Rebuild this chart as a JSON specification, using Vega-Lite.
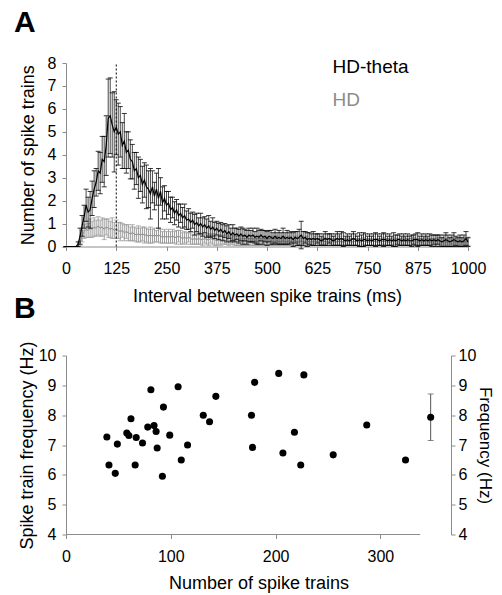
{
"$schema": "https://vega.github.io/schema/vega-lite/v6.json",
"padding": {"left": 14, "top": 8, "right": 0, "bottom": 0},
"background": "#ffffff",
"config": {
  "font": "Liberation Sans",
  "view": {"stroke": null},
  "axis": {"grid": false, "domainColor": "#8c8c8c", "tickColor": "#8c8c8c", "labelColor": "#000000", "titleColor": "#000000", "labelFontSize": 16, "titleFontSize": 18, "titleFontWeight": "normal", "tickSize": 4, "labelFont": "Liberation Sans", "titleFont": "Liberation Sans", "labelOverlap": false, "labelFlush": false, "format": "d"},
  "title": {"fontSize": 30, "fontWeight": "bold", "anchor": "start", "font": "Liberation Sans", "color": "#000000"}
},
"datasets": {
  "hist": [
{"t":0,"a":0,"ae":0,"b":0,"be":0},{"t":5,"a":0,"ae":0,"b":0,"be":0},{"t":10,"a":0,"ae":0,"b":0,"be":0},{"t":15,"a":0,"ae":0,"b":0,"be":0},{"t":20,"a":0,"ae":0,"b":0,"be":0},{"t":25,"a":0,"ae":0,"b":0,"be":0},
{"t":30,"a":0.1,"ae":0.1,"b":0,"be":0},{"t":35,"a":0.45,"ae":0.35,"b":0.15,"be":0.1},{"t":40,"a":0.9,"ae":0.45,"b":0.45,"be":0.25},{"t":45,"a":1.3,"ae":0.5,"b":0.65,"be":0.3},
{"t":50,"a":1.8,"ae":0.7,"b":0.75,"be":0.35},{"t":55,"a":1.5,"ae":0.65,"b":0.7,"be":0.3},{"t":60,"a":1.6,"ae":0.8,"b":0.8,"be":0.4},{"t":65,"a":2.1,"ae":0.75,"b":0.75,"be":0.35},
{"t":70,"a":2.5,"ae":0.8,"b":0.85,"be":0.4},{"t":75,"a":2.8,"ae":0.6,"b":0.8,"be":0.35},{"t":80,"a":3.3,"ae":0.85,"b":0.9,"be":0.4},{"t":85,"a":3.2,"ae":0.9,"b":0.8,"be":0.35},
{"t":90,"a":3.8,"ae":1.0,"b":0.85,"be":0.4},{"t":95,"a":3.7,"ae":1.1,"b":0.75,"be":0.45},{"t":100,"a":4.4,"ae":1.3,"b":0.85,"be":0.35},{"t":105,"a":5.6,"ae":1.7,"b":0.8,"be":0.4},
{"t":110,"a":5.7,"ae":1.65,"b":0.75,"be":0.35},{"t":115,"a":5.3,"ae":1.4,"b":0.8,"be":0.45},{"t":120,"a":5.0,"ae":1.75,"b":0.7,"be":0.35},{"t":125,"a":5.2,"ae":1.2,"b":0.75,"be":0.4},
{"t":130,"a":4.9,"ae":1.35,"b":0.7,"be":0.35},{"t":135,"a":5.0,"ae":1.1,"b":0.65,"be":0.4},{"t":140,"a":4.4,"ae":1.0,"b":0.7,"be":0.3},{"t":145,"a":4.6,"ae":1.2,"b":0.6,"be":0.35},
{"t":150,"a":4.1,"ae":0.9,"b":0.65,"be":0.3},{"t":155,"a":4.2,"ae":0.8,"b":0.6,"be":0.35},{"t":160,"a":3.8,"ae":0.85,"b":0.55,"be":0.3},{"t":165,"a":3.7,"ae":0.75,"b":0.6,"be":0.35},
{"t":170,"a":3.3,"ae":0.8,"b":0.55,"be":0.3},{"t":175,"a":3.4,"ae":0.7,"b":0.5,"be":0.3},{"t":180,"a":3.0,"ae":0.9,"b":0.55,"be":0.35},{"t":185,"a":3.1,"ae":0.7,"b":0.5,"be":0.3},
{"t":190,"a":2.7,"ae":0.8,"b":0.55,"be":0.3},{"t":195,"a":2.9,"ae":0.75,"b":0.5,"be":0.35},{"t":200,"a":2.6,"ae":0.95,"b":0.5,"be":0.3},{"t":205,"a":2.5,"ae":0.8,"b":0.45,"be":0.3},
{"t":210,"a":2.3,"ae":1.1,"b":0.5,"be":0.35},{"t":215,"a":2.6,"ae":0.7,"b":0.45,"be":0.3},{"t":220,"a":2.2,"ae":0.6,"b":0.5,"be":0.3},{"t":225,"a":2.5,"ae":0.7,"b":0.45,"be":0.25},
{"t":230,"a":2.1,"ae":1.3,"b":0.5,"be":0.3},{"t":235,"a":2.4,"ae":0.6,"b":0.45,"be":0.3},{"t":240,"a":1.9,"ae":0.7,"b":0.4,"be":0.25},{"t":245,"a":2.1,"ae":0.55,"b":0.45,"be":0.3},
{"t":250,"a":1.8,"ae":0.6,"b":0.4,"be":0.25},{"t":255,"a":1.9,"ae":0.5,"b":0.45,"be":0.3},{"t":260,"a":1.6,"ae":0.55,"b":0.4,"be":0.25},{"t":265,"a":1.7,"ae":0.45,"b":0.45,"be":0.3},
{"t":270,"a":1.45,"ae":0.5,"b":0.4,"be":0.25},{"t":275,"a":1.6,"ae":0.45,"b":0.4,"be":0.3},{"t":280,"a":1.35,"ae":0.5,"b":0.45,"be":0.25},{"t":285,"a":1.45,"ae":0.4,"b":0.4,"be":0.3},
{"t":290,"a":1.25,"ae":0.45,"b":0.35,"be":0.25},{"t":295,"a":1.35,"ae":0.5,"b":0.4,"be":0.25},{"t":300,"a":1.15,"ae":0.4,"b":0.35,"be":0.25},{"t":305,"a":1.2,"ae":0.45,"b":0.4,"be":0.2},
{"t":310,"a":1.05,"ae":0.4,"b":0.35,"be":0.25},{"t":315,"a":1.15,"ae":0.35,"b":0.3,"be":0.2},{"t":320,"a":0.95,"ae":0.45,"b":0.35,"be":0.25},{"t":325,"a":1.05,"ae":0.4,"b":0.3,"be":0.2},
{"t":330,"a":0.9,"ae":0.35,"b":0.35,"be":0.25},{"t":335,"a":1.0,"ae":0.45,"b":0.3,"be":0.2},{"t":340,"a":0.85,"ae":0.4,"b":0.3,"be":0.25},{"t":345,"a":0.95,"ae":0.35,"b":0.35,"be":0.2},
{"t":350,"a":0.8,"ae":0.4,"b":0.3,"be":0.2},{"t":355,"a":0.9,"ae":0.45,"b":0.3,"be":0.25},{"t":360,"a":0.75,"ae":0.35,"b":0.35,"be":0.2},{"t":365,"a":0.85,"ae":0.4,"b":0.3,"be":0.2},
{"t":370,"a":0.7,"ae":0.35,"b":0.3,"be":0.25},{"t":375,"a":0.8,"ae":0.3,"b":0.25,"be":0.2},{"t":380,"a":0.65,"ae":0.35,"b":0.3,"be":0.2},{"t":385,"a":0.75,"ae":0.3,"b":0.25,"be":0.2},
{"t":390,"a":0.6,"ae":0.35,"b":0.3,"be":0.2},{"t":395,"a":0.7,"ae":0.3,"b":0.25,"be":0.15},{"t":400,"a":0.55,"ae":0.35,"b":0.3,"be":0.2},{"t":405,"a":0.65,"ae":0.3,"b":0.25,"be":0.2},
{"t":410,"a":0.5,"ae":0.3,"b":0.25,"be":0.15},{"t":415,"a":0.6,"ae":0.35,"b":0.3,"be":0.2},{"t":420,"a":0.5,"ae":0.3,"b":0.25,"be":0.2},{"t":425,"a":0.55,"ae":0.25,"b":0.2,"be":0.15},
{"t":430,"a":0.45,"ae":0.3,"b":0.25,"be":0.2},{"t":435,"a":0.55,"ae":0.3,"b":0.2,"be":0.15},{"t":440,"a":0.45,"ae":0.35,"b":0.25,"be":0.2},{"t":445,"a":0.5,"ae":0.25,"b":0.2,"be":0.15},
{"t":450,"a":0.4,"ae":0.3,"b":0.25,"be":0.2},{"t":455,"a":0.5,"ae":0.3,"b":0.2,"be":0.15},{"t":460,"a":0.45,"ae":0.25,"b":0.25,"be":0.2},{"t":465,"a":0.5,"ae":0.3,"b":0.2,"be":0.15},
{"t":470,"a":0.4,"ae":0.25,"b":0.25,"be":0.2},{"t":475,"a":0.45,"ae":0.35,"b":0.2,"be":0.15},{"t":480,"a":0.4,"ae":0.3,"b":0.25,"be":0.2},{"t":485,"a":0.5,"ae":0.25,"b":0.2,"be":0.15},
{"t":490,"a":0.4,"ae":0.3,"b":0.2,"be":0.15},{"t":495,"a":0.45,"ae":0.25,"b":0.25,"be":0.2},{"t":500,"a":0.35,"ae":0.3,"b":0.2,"be":0.15},{"t":505,"a":0.45,"ae":0.25,"b":0.2,"be":0.15},
{"t":510,"a":0.4,"ae":0.3,"b":0.25,"be":0.2},{"t":515,"a":0.35,"ae":0.25,"b":0.2,"be":0.15},{"t":520,"a":0.45,"ae":0.3,"b":0.2,"be":0.15},{"t":525,"a":0.35,"ae":0.25,"b":0.25,"be":0.2},
{"t":530,"a":0.4,"ae":0.3,"b":0.2,"be":0.15},{"t":535,"a":0.35,"ae":0.25,"b":0.2,"be":0.15},{"t":540,"a":0.45,"ae":0.35,"b":0.25,"be":0.2},{"t":545,"a":0.35,"ae":0.25,"b":0.2,"be":0.15},
{"t":550,"a":0.4,"ae":0.3,"b":0.2,"be":0.15},{"t":555,"a":0.35,"ae":0.25,"b":0.25,"be":0.2},{"t":560,"a":0.4,"ae":0.25,"b":0.2,"be":0.15},{"t":565,"a":0.3,"ae":0.3,"b":0.2,"be":0.15},
{"t":570,"a":0.4,"ae":0.25,"b":0.25,"be":0.2},{"t":575,"a":0.35,"ae":0.3,"b":0.2,"be":0.15},{"t":580,"a":0.4,"ae":0.35,"b":0.2,"be":0.15},{"t":585,"a":0.5,"ae":0.6,"b":0.25,"be":0.2},
{"t":590,"a":0.35,"ae":0.3,"b":0.2,"be":0.15},{"t":595,"a":0.4,"ae":0.25,"b":0.2,"be":0.15},{"t":600,"a":0.3,"ae":0.3,"b":0.25,"be":0.2},{"t":605,"a":0.35,"ae":0.25,"b":0.2,"be":0.15},
{"t":610,"a":0.3,"ae":0.25,"b":0.2,"be":0.15},{"t":615,"a":0.35,"ae":0.3,"b":0.2,"be":0.15},{"t":620,"a":0.3,"ae":0.25,"b":0.25,"be":0.2},{"t":625,"a":0.35,"ae":0.2,"b":0.2,"be":0.15},
{"t":630,"a":0.3,"ae":0.25,"b":0.2,"be":0.15},{"t":635,"a":0.25,"ae":0.2,"b":0.2,"be":0.15},{"t":640,"a":0.3,"ae":0.25,"b":0.25,"be":0.15},{"t":645,"a":0.35,"ae":0.3,"b":0.2,"be":0.15},
{"t":650,"a":0.3,"ae":0.25,"b":0.2,"be":0.15},{"t":655,"a":0.35,"ae":0.2,"b":0.2,"be":0.15},{"t":660,"a":0.3,"ae":0.25,"b":0.25,"be":0.2},{"t":665,"a":0.25,"ae":0.2,"b":0.2,"be":0.15},
{"t":670,"a":0.3,"ae":0.25,"b":0.2,"be":0.15},{"t":675,"a":0.35,"ae":0.3,"b":0.2,"be":0.15},{"t":680,"a":0.3,"ae":0.25,"b":0.25,"be":0.2},{"t":685,"a":0.35,"ae":0.3,"b":0.2,"be":0.15},
{"t":690,"a":0.3,"ae":0.3,"b":0.2,"be":0.15},{"t":695,"a":0.25,"ae":0.2,"b":0.2,"be":0.15},{"t":700,"a":0.3,"ae":0.25,"b":0.25,"be":0.15},{"t":705,"a":0.25,"ae":0.2,"b":0.2,"be":0.15},
{"t":710,"a":0.3,"ae":0.25,"b":0.2,"be":0.15},{"t":715,"a":0.35,"ae":0.3,"b":0.2,"be":0.15},{"t":720,"a":0.3,"ae":0.25,"b":0.25,"be":0.2},{"t":725,"a":0.25,"ae":0.2,"b":0.2,"be":0.15},
{"t":730,"a":0.3,"ae":0.3,"b":0.2,"be":0.15},{"t":735,"a":0.25,"ae":0.25,"b":0.2,"be":0.15},{"t":740,"a":0.3,"ae":0.3,"b":0.25,"be":0.15},{"t":745,"a":0.3,"ae":0.25,"b":0.2,"be":0.15},
{"t":750,"a":0.25,"ae":0.2,"b":0.2,"be":0.15},{"t":755,"a":0.3,"ae":0.25,"b":0.2,"be":0.15},{"t":760,"a":0.25,"ae":0.2,"b":0.2,"be":0.15},{"t":765,"a":0.3,"ae":0.25,"b":0.25,"be":0.2},
{"t":770,"a":0.3,"ae":0.3,"b":0.2,"be":0.15},{"t":775,"a":0.3,"ae":0.25,"b":0.2,"be":0.15},{"t":780,"a":0.25,"ae":0.2,"b":0.2,"be":0.15},{"t":785,"a":0.3,"ae":0.25,"b":0.2,"be":0.15},
{"t":790,"a":0.3,"ae":0.3,"b":0.25,"be":0.15},{"t":795,"a":0.3,"ae":0.25,"b":0.2,"be":0.15},{"t":800,"a":0.25,"ae":0.2,"b":0.2,"be":0.15},{"t":805,"a":0.3,"ae":0.25,"b":0.2,"be":0.15},
{"t":810,"a":0.25,"ae":0.2,"b":0.2,"be":0.15},{"t":815,"a":0.3,"ae":0.3,"b":0.25,"be":0.15},{"t":820,"a":0.25,"ae":0.25,"b":0.2,"be":0.15},{"t":825,"a":0.3,"ae":0.2,"b":0.2,"be":0.15},
{"t":830,"a":0.3,"ae":0.25,"b":0.2,"be":0.15},{"t":835,"a":0.25,"ae":0.2,"b":0.2,"be":0.15},{"t":840,"a":0.3,"ae":0.25,"b":0.25,"be":0.15},{"t":845,"a":0.25,"ae":0.2,"b":0.2,"be":0.15},
{"t":850,"a":0.3,"ae":0.25,"b":0.2,"be":0.15},{"t":855,"a":0.25,"ae":0.2,"b":0.2,"be":0.15},{"t":860,"a":0.25,"ae":0.25,"b":0.2,"be":0.15},{"t":865,"a":0.3,"ae":0.2,"b":0.25,"be":0.15},
{"t":870,"a":0.3,"ae":0.25,"b":0.2,"be":0.15},{"t":875,"a":0.3,"ae":0.3,"b":0.2,"be":0.15},{"t":880,"a":0.25,"ae":0.2,"b":0.2,"be":0.15},{"t":885,"a":0.3,"ae":0.25,"b":0.2,"be":0.15},
{"t":890,"a":0.25,"ae":0.2,"b":0.2,"be":0.15},{"t":895,"a":0.3,"ae":0.25,"b":0.25,"be":0.15},{"t":900,"a":0.25,"ae":0.2,"b":0.2,"be":0.15},{"t":905,"a":0.3,"ae":0.25,"b":0.2,"be":0.15},
{"t":910,"a":0.25,"ae":0.25,"b":0.2,"be":0.15},{"t":915,"a":0.3,"ae":0.2,"b":0.2,"be":0.15},{"t":920,"a":0.25,"ae":0.25,"b":0.2,"be":0.15},{"t":925,"a":0.3,"ae":0.2,"b":0.25,"be":0.15},
{"t":930,"a":0.25,"ae":0.25,"b":0.2,"be":0.15},{"t":935,"a":0.2,"ae":0.2,"b":0.2,"be":0.15},{"t":940,"a":0.25,"ae":0.25,"b":0.2,"be":0.15},{"t":945,"a":0.3,"ae":0.3,"b":0.2,"be":0.15},
{"t":950,"a":0.25,"ae":0.25,"b":0.2,"be":0.15},{"t":955,"a":0.2,"ae":0.2,"b":0.2,"be":0.15},{"t":960,"a":0.25,"ae":0.25,"b":0.25,"be":0.15},{"t":965,"a":0.3,"ae":0.3,"b":0.2,"be":0.15},
{"t":970,"a":0.25,"ae":0.2,"b":0.2,"be":0.15},{"t":975,"a":0.2,"ae":0.2,"b":0.2,"be":0.15},{"t":980,"a":0.25,"ae":0.25,"b":0.2,"be":0.15},{"t":985,"a":0.2,"ae":0.2,"b":0.2,"be":0.15},
{"t":990,"a":0.25,"ae":0.25,"b":0.2,"be":0.15},{"t":995,"a":0.35,"ae":0.3,"b":0.2,"be":0.15},{"t":1000,"a":0.2,"ae":0.2,"b":0.2,"be":0.15}
  ],
  "pts": [
{"n":39,"f":7.27},{"n":41,"f":6.33},{"n":47,"f":6.05},{"n":49,"f":7.03},{"n":58,"f":7.4},{"n":60,"f":7.32},{"n":62,"f":7.88},{"n":67,"f":7.25},{"n":66,"f":6.33},{"n":73,"f":7.07},{"n":78,"f":7.6},{"n":81,"f":8.85},{"n":84,"f":7.65},{"n":86,"f":7.45},{"n":87,"f":6.9},{"n":93,"f":8.27},{"n":92,"f":5.95},{"n":99,"f":7.33},{"n":107,"f":8.95},{"n":110,"f":6.5},{"n":116,"f":7.0},{"n":131,"f":8.0},{"n":137,"f":7.78},{"n":143,"f":8.63},{"n":180,"f":9.1},{"n":177,"f":8.0},{"n":178,"f":6.92},{"n":203,"f":9.4},{"n":227,"f":9.35},{"n":218,"f":7.43},{"n":207,"f":6.73},{"n":224,"f":6.33},{"n":255,"f":6.67},{"n":287,"f":7.67},{"n":324,"f":6.5}
  ]
},
"bounds": "flush",
"spacing": 108.5,
"vconcat": [
  {
    "width": 402,
    "height": 183.5,
    "title": {"text": "A", "dx": -52, "anchor": "start", "frame": "group", "offset": 17},
    "data": {"name": "hist"},
    "encoding": {
      "x": {"field": "t", "type": "quantitative", "scale": {"domain": [0, 1000], "nice": false}, "title": "Interval between spike trains (ms)",
            "axis": {"values": [0,125,250,375,500,625,750,875,1000], "labelPadding": 10, "titlePadding": 11}}
    },
    "layer": [
      {"mark": {"type": "errorbar", "color": "#9a9a9a", "thickness": 1, "ticks": {"size": 5, "color": "#9a9a9a"}},
       "encoding": {"y": {"field": "b", "type": "quantitative", "scale": {"domain": [0, 8], "nice": false}, "title": "Number of spike trains", "axis": {"values": [0,1,2,3,4,5,6,7,8], "labelPadding": 6, "titlePadding": 10}}, "yError": {"field": "be"}}},
      {"mark": {"type": "line", "color": "#8a8a8a", "strokeWidth": 1},
       "encoding": {"y": {"field": "b", "type": "quantitative", "scale": {"domain": [0, 8], "nice": false}, "title": "Number of spike trains", "axis": {"values": [0,1,2,3,4,5,6,7,8], "labelPadding": 6, "titlePadding": 10}}}},
      {"mark": {"type": "errorbar", "color": "#1a1a1a", "thickness": 1, "opacity": 0.8, "ticks": {"size": 5, "color": "#000000"}},
       "encoding": {"y": {"field": "a", "type": "quantitative", "scale": {"domain": [0, 8], "nice": false}, "title": "Number of spike trains", "axis": {"values": [0,1,2,3,4,5,6,7,8], "labelPadding": 6, "titlePadding": 10}}, "yError": {"field": "ae"}}},
      {"mark": {"type": "line", "color": "#000000", "strokeWidth": 1.2},
       "encoding": {"y": {"field": "a", "type": "quantitative", "scale": {"domain": [0, 8], "nice": false}, "title": "Number of spike trains", "axis": {"values": [0,1,2,3,4,5,6,7,8], "labelPadding": 6, "titlePadding": 10}}}},
      {"data": {"values": [{"t": 125, "lo": 0, "hi": 8}]},
       "mark": {"type": "rule", "color": "#000000", "strokeWidth": 1, "strokeDash": [2, 2]},
       "encoding": {"y": {"field": "lo", "type": "quantitative", "title": "Number of spike trains", "axis": {"values": [0,1,2,3,4,5,6,7,8], "labelPadding": 6, "titlePadding": 10}}, "y2": {"field": "hi"}}},
      {"data": {"values": [{"t": 663, "v": 7.84, "s": "HD-theta"}, {"t": 663, "v": 6.4, "s": "HD"}]},
       "mark": {"type": "text", "align": "left", "baseline": "middle", "fontSize": 19},
       "encoding": {"y": {"field": "v", "type": "quantitative", "title": "Number of spike trains", "axis": {"values": [0,1,2,3,4,5,6,7,8], "labelPadding": 6, "titlePadding": 10}}, "text": {"field": "s"},
                    "color": {"field": "s", "type": "nominal", "scale": {"domain": ["HD-theta", "HD"], "range": ["#000000", "#8c8c8c"]}, "legend": null}}}
    ]
  },
  {
    "width": 385,
    "height": 179,
    "title": {"text": "B", "dx": -52, "anchor": "start", "frame": "group", "offset": 17},
    "encoding": {
      "x": {"field": "n", "type": "quantitative", "scale": {"domain": [0, 367.4], "nice": false}, "title": "Number of spike trains",
            "axis": {"values": [0, 100, 200, 300], "domain": false, "labelPadding": 10, "titlePadding": 10}}
    },
    "layer": [
      {"layer": [
        {"data": {"name": "pts"},
         "mark": {"type": "point", "filled": true, "size": 50, "color": "#000000", "opacity": 1},
         "encoding": {"y": {"field": "f", "type": "quantitative", "scale": {"domain": [4, 10], "nice": false}, "title": "Spike train frequency (Hz)", "axis": {"orient": "left", "values": [4,5,6,7,8,9,10], "labelPadding": 6, "titlePadding": 2}}}},
        {"data": {"values": [{"n": 0, "n2": 338, "f": 4}]},
         "mark": {"type": "rule", "color": "#8c8c8c", "strokeWidth": 1},
         "encoding": {"x2": {"field": "n2"}, "y": {"field": "f", "type": "quantitative", "scale": {"domain": [4, 10], "nice": false}, "title": "Spike train frequency (Hz)", "axis": {"orient": "left", "values": [4,5,6,7,8,9,10], "labelPadding": 6, "titlePadding": 2}}}}
      ]},
      {"data": {"values": [{"n": 348, "f": 7.93, "fe": 0.78}]},
       "layer": [
        {"mark": {"type": "errorbar", "color": "#555555", "thickness": 1, "ticks": {"size": 6, "color": "#555555"}},
         "encoding": {"y": {"field": "f", "type": "quantitative", "scale": {"domain": [4, 10], "nice": false}, "title": "Frequency (Hz)", "axis": {"orient": "right", "values": [4,5,6,7,8,9,10], "labelPadding": 3, "titlePadding": 0, "titleFontSize": 17}}, "yError": {"field": "fe"}}},
        {"mark": {"type": "point", "filled": true, "size": 50, "color": "#000000", "opacity": 1},
         "encoding": {"y": {"field": "f", "type": "quantitative", "scale": {"domain": [4, 10], "nice": false}, "title": "Frequency (Hz)", "axis": {"orient": "right", "values": [4,5,6,7,8,9,10], "labelPadding": 3, "titlePadding": 0, "titleFontSize": 17}}}}
      ]}
    ],
    "resolve": {"scale": {"y": "independent"}}
  }
]
}
